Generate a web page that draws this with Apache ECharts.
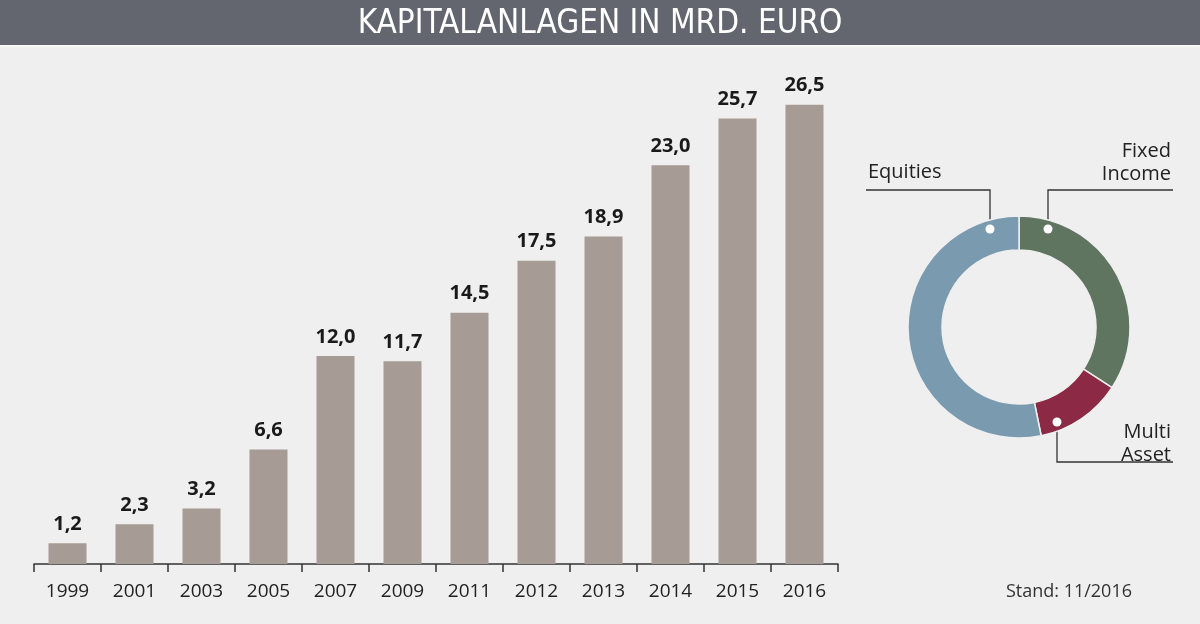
<!DOCTYPE html>
<html>
<head>
<meta charset="utf-8">
<script src="https://cdn.jsdelivr.net/npm/echarts@6/dist/echarts.min.js"></script>
<style>
html,body{margin:0;padding:0;background:#efefef;}
#chart{width:1200px;height:624px;}
</style>
</head>
<body>
<div id="chart"></div>
<script>
var titleText = 'KAPITALANLAGEN IN MRD. EURO';
var years = ['1999','2001','2003','2005','2007','2009','2011','2012','2013','2014','2015','2016'];
var volumes = [1.2, 2.3, 3.2, 6.6, 12.0, 11.7, 14.5, 17.5, 18.9, 23.0, 25.7, 26.5];
var assetNames = ['Fixed\nIncome', 'Multi\nAsset', 'Equities'];
var assetShares = [34.2, 12.6, 53.2];
var assetColors = ['#5f7560', '#8c2945', '#7a9aaf'];
var footnote = 'Stand: 11/2016';

// annotation geometry for the donut labels (dot, elbow, end; text anchor)
var pieLabelGeo = [
  {line: [[1048,229],[1048,190],[1173,190]], x: 1171, y: 163, align: 'right'},
  {line: [[1057,422],[1057,462],[1173,462]], x: 1171, y: 444, align: 'right'},
  {line: [[990,229],[990,190],[866,190]], x: 868, y: 172, align: 'left'}
];

var chart = echarts.init(document.getElementById('chart'));
var font = '"Open Sans", "Noto Sans", sans-serif';

var graphics = [
  {type: 'rect', shape: {x: 0, y: 0, width: 1200, height: 45}, style: {fill: '#63666e'}, z: 0},
  {type: 'rect', shape: {x: 0, y: 45, width: 1200, height: 2}, style: {fill: '#f8f8f8'}, z: 0},
  {type: 'text', left: 'center', top: 8, style: {text: titleText, fill: '#ffffff', font: '300 33px "Liberation Sans Narrow", "DejaVu Sans Condensed", sans-serif'}, z: 5},
  {type: 'text', right: 68, top: 583, style: {text: footnote, fill: '#333333', font: '18px ' + font}, z: 5}
];
pieLabelGeo.forEach(function (g) {
  graphics.push({type: 'circle', shape: {cx: g.line[0][0], cy: g.line[0][1], r: 4.5}, style: {fill: '#ffffff'}, z: 20});
});

chart.setOption({
  backgroundColor: '#efefef',
  animation: false,
  graphic: graphics,
  grid: {left: 34, right: 362, top: 44, bottom: 60, containLabel: false},
  xAxis: {
    type: 'category',
    data: years,
    axisLine: {lineStyle: {color: '#333333', width: 1.5}},
    axisTick: {show: true, length: 8, lineStyle: {color: '#333333', width: 1.5}},
    axisLabel: {color: '#222222', fontSize: 19, fontFamily: font, margin: 18}
  },
  yAxis: {type: 'value', min: 0, max: 30, show: false, splitLine: {show: false}},
  series: [
    {
      type: 'bar',
      data: volumes,
      barWidth: 38,
      itemStyle: {color: '#a69b95'},
      label: {
        show: true,
        position: 'top',
        distance: 9,
        color: '#1a1a1a',
        fontSize: 20,
        fontWeight: 'bold',
        fontFamily: font,
        formatter: function (p) { return p.value.toFixed(1).replace('.', ','); }
      }
    },
    {
      type: 'pie',
      center: [1019, 327],
      radius: [77, 111],
      startAngle: 90,
      clockwise: true,
      data: assetNames.map(function (n, i) {
        return {name: n, value: assetShares[i], itemStyle: {color: assetColors[i]}};
      }),
      itemStyle: {borderColor: '#efefef', borderWidth: 1.5},
      label: {
        show: true,
        position: 'outside',
        formatter: '{b}',
        color: '#222222',
        fontSize: 20,
        lineHeight: 23,
        fontFamily: font,
        overflow: 'none',
        width: 200
      },
      labelLine: {show: true, lineStyle: {color: '#333333', width: 1.3}},
      labelLayout: function (p) {
        var g = pieLabelGeo[p.dataIndex];
        return {x: g.x, y: g.y, align: g.align, verticalAlign: 'middle', labelLinePoints: g.line};
      },
      emphasis: {disabled: true}
    }
  ]
});
</script>
</body>
</html>
